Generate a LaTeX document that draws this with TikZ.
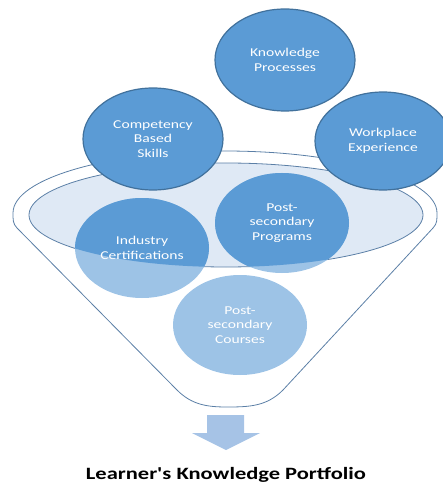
\documentclass[tikz,border=0pt]{standalone}
\usepackage{fontspec}
\setmainfont{Carlito}[FakeStretch=1.3]
\newfontfamily\captionfont{Carlito}[FakeStretch=1.3, Ligatures=TeXOff]
\usetikzlibrary{shapes.geometric}
\definecolor{bluefill}{HTML}{5B9BD5}
\definecolor{blueedge}{HTML}{41719C}
\definecolor{paleblue}{HTML}{9DC3E6}
\definecolor{rimfill}{HTML}{DFE9F5}
\definecolor{funnelline}{HTML}{5B7FA6}
\definecolor{arrowfill}{HTML}{A6C3E6}
\begin{document}
\begin{tikzpicture}[x=1pt,y=1pt,
  labeltext/.style={text=white, align=center, font=\fontsize{12}{14.5}\selectfont},
  topcircle/.style={ellipse, draw=blueedge, line width=1.2pt, fill=bluefill,
    minimum width=140pt, minimum height=102pt, inner sep=0pt, labeltext},
  lowcircle/.style={ellipse, fill=paleblue, minimum width=134pt,
    minimum height=100pt, inner sep=0pt, labeltext},
  darkpart/.style={path picture={\fill[bluefill] (rim.center) ellipse[x radius=197, y radius=52];}},
  funnelrim/.style={draw=funnelline, line width=0.8pt}
]
\useasboundingbox (0,0) rectangle (443,-486);

% outer funnel: open top rim, straight sides, rounded spout
\draw[funnelrim] (227,-407) to[out=180,in=-45] (177,-390) -- (17,-228)
  to[out=135,in=270] (13,-213)
  arc[start angle=180,end angle=0,x radius=212,y radius=62]
  to[out=270,in=45] (433,-228) -- (283,-390) to[out=-135,in=0] (227,-407);

% inner rim of the funnel
\node[ellipse, funnelrim, fill=rimfill, minimum width=394pt, minimum height=104pt,
  inner sep=0pt] (rim) at (226,-215) {};

% items sinking into the funnel
\node[lowcircle, darkpart] (ind) at (142,-248) {Industry\\Certifications};
\node[lowcircle, darkpart] (prog) at (282,-223) {Post-\\secondary\\Programs};
\node[lowcircle] (course) at (240,-325) {Post-\\secondary\\Courses};

% items above the funnel
\node[topcircle] (comp) at (153,-139) {Competency\\Based\\Skills};
\node[topcircle, minimum width=136pt, minimum height=98pt] (work) at (383,-141) {Workplace\\Experience};
\node[topcircle] (know) at (285,-60) {Knowledge\\Processes};

% output arrow
\fill[arrowfill] (207,-415) -- (244,-415) -- (244,-433) -- (260,-433)
  -- (226,-450) -- (192,-433) -- (207,-433) -- cycle;

\node[anchor=base, font=\captionfont\fontsize{17.3}{20}\selectfont\bfseries] (title) at (226,-479)
  {Learner's Knowledge Portfolio};
\end{tikzpicture}
\end{document}
